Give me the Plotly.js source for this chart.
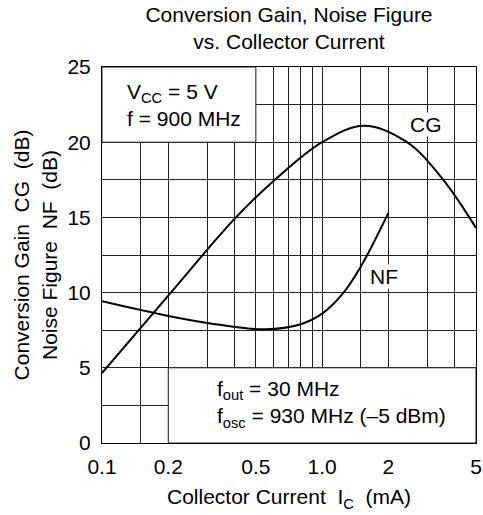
<!DOCTYPE html>
<html>
<head>
<meta charset="utf-8">
<script src="https://cdn.plot.ly/plotly-3.0.1.min.js"></script>
<style>html,body{margin:0;padding:0;background:#fff;}#chart{width:483px;height:515px;}</style>
</head>
<body>
<div id="chart"></div>
<script>
// Conversion gain CG (dB) vs collector current (mA)
const cgCurrent = [0.1, 0.2, 0.4, 0.6, 1.0, 1.55, 2.43, 3.55, 5.0];
const cgValues  = [4.65, 9.8, 14.9, 17.4, 20.0, 21.1, 20.0, 17.5, 14.3];
// Noise figure NF (dB) vs collector current (mA)
const nfCurrent = [0.1, 0.2, 0.35, 0.55, 0.8, 1.0, 1.23, 1.5, 2.0];
const nfValues  = [9.42, 8.45, 7.84, 7.56, 7.9, 8.6, 9.86, 11.74, 15.3];
// Axis ticks
const xMajorTicks = [0.1, 0.2, 0.5, 1, 2, 5];
const xMajorLabels = ['0.1', '0.2', '0.5', '1.0', '2', '5'];
const xMinorTicks = [0.15, 0.3, 0.4, 0.6, 0.7, 0.8, 0.9, 1.5, 3, 4];

const FONT = 'Liberation Sans, Arial, sans-serif';
const FS = 21;
const GRID = '#222';
const lg = Math.log10;

const traces = [
  {x: cgCurrent, y: cgValues, mode: 'lines', line: {color: '#000', width: 2, shape: 'spline', smoothing: 1}, hoverinfo: 'skip'},
  {x: nfCurrent, y: nfValues, mode: 'lines', line: {color: '#000', width: 2, shape: 'spline', smoothing: 1}, hoverinfo: 'skip'}
];

const layout = {
  width: 483, height: 515,
  margin: {l: 102, r: 7, t: 67, b: 72},
  paper_bgcolor: '#fff', plot_bgcolor: '#fff',
  showlegend: false,
  font: {family: FONT, size: FS, color: '#000'},
  title: {text: 'Conversion Gain, Noise Figure<br>vs. Collector Current', x: 0.5, xref: 'paper', y: 0.957, yanchor: 'top', font: {family: FONT, size: FS, color: '#000'}},
  xaxis: {
    type: 'log', range: [lg(0.1), lg(5)],
    tickmode: 'array', tickvals: xMajorTicks, ticktext: xMajorLabels,
    ticks: '', showgrid: true, gridcolor: GRID, gridwidth: 1,
    minor: {tickmode: 'array', tickvals: xMinorTicks, showgrid: true, gridcolor: GRID, gridwidth: 1, ticks: ''},
    showline: true, mirror: true, linecolor: '#000', linewidth: 1,
    zeroline: false, tickfont: {size: FS}, ticklabelstandoff: 5,
    title: {text: 'Collector Current  I<sub>C</sub>  (mA)', font: {size: FS}, standoff: 12}
  },
  yaxis: {
    range: [0, 25], tickmode: 'linear', tick0: 0, dtick: 5,
    ticks: '', showgrid: true, gridcolor: GRID, gridwidth: 1,
    minor: {dtick: 2.5, showgrid: true, gridcolor: GRID, gridwidth: 1, ticks: ''},
    showline: true, mirror: true, linecolor: '#000', linewidth: 1,
    zeroline: false, tickfont: {size: FS}, ticklabelstandoff: 6,
    title: {text: 'Conversion Gain  CG  (dB)<br>Noise Figure  NF  (dB)', font: {size: FS}, standoff: 4}
  },
  shapes: [
    {type: 'rect', layer: 'between', xref: 'x', yref: 'y', x0: 0.1, x1: 0.5, y0: 20, y1: 25, fillcolor: '#fff', line: {color: GRID, width: 1}},
    {type: 'rect', layer: 'between', xref: 'x', yref: 'y', x0: 0.2, x1: 5, y0: 0, y1: 5, fillcolor: '#fff', line: {color: GRID, width: 1}}
  ],
  annotations: [
    {xref: 'x', yref: 'y', x: lg(0.1276), y: 22.5, xanchor: 'left', yanchor: 'middle', align: 'left', showarrow: false,
     text: 'V<sub>CC</sub> = 5 V<br>f = 900 MHz', font: {size: FS}},
    {xref: 'x', yref: 'y', x: lg(0.327), y: 2.6, xanchor: 'left', yanchor: 'middle', align: 'left', showarrow: false,
     text: 'f<sub>out</sub> = 30 MHz<br>f<sub>osc</sub> = 930 MHz (–5 dBm)', font: {size: FS}},
    {xref: 'x', yref: 'y', x: lg(2.95), y: 21.15, showarrow: false, text: 'CG', bgcolor: '#fff', borderpad: 0, font: {size: FS}},
    {xref: 'x', yref: 'y', x: lg(1.9), y: 11.05, showarrow: false, text: 'NF', bgcolor: '#fff', borderpad: 0, font: {size: FS}}
  ]
};

Plotly.newPlot('chart', traces, layout, {staticPlot: true, displayModeBar: false});
</script>
</body>
</html>
